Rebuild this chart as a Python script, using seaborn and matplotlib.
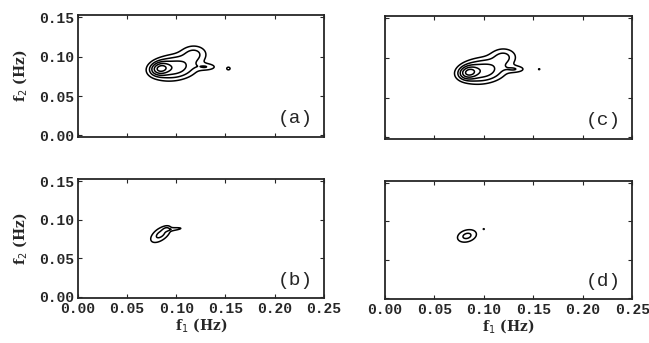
import numpy as np
import pandas as pd
import matplotlib
matplotlib.use("Agg")
import matplotlib.pyplot as plt
import seaborn as sns

# ---- data: peaks of each bispectrum panel (f1, f2, spread1, spread2, angle deg, amplitude)
panel_labels = ["(a)", "(b)", "(c)", "(d)"]

a_f1 = [0.084, 0.097, 0.118, 0.131, 0.153]
a_f2 = [0.085, 0.086, 0.104, 0.087, 0.085]
a_s1 = [0.0055, 0.015, 0.009, 0.007, 0.0014]
a_s2 = [0.0045, 0.0095, 0.0075, 0.003, 0.0014]
a_ang = [20, 10, 0, 0, 0]
a_amp = [1.0, 0.7, 0.32, 0.24, 0.30]

c_f1 = [0.085, 0.098, 0.120, 0.132, 0.156]
c_f2 = [0.082, 0.084, 0.102, 0.086, 0.086]
c_s1 = [0.0055, 0.015, 0.009, 0.007, 0.0008]
c_s2 = [0.0045, 0.0095, 0.0075, 0.003, 0.0008]
c_ang = [22, 10, 0, 0, 0]
c_amp = [1.0, 0.7, 0.32, 0.24, 0.20]

b_f1 = [0.084, 0.090, 0.099]
b_f2 = [0.081, 0.088, 0.088]
b_s1 = [0.0095, 0.0025, 0.006]
b_s2 = [0.005, 0.0018, 0.0013]
b_ang = [48, 30, 8]
b_amp = [1.0, 0.45, 0.6]

d_f1 = [0.083, 0.100]
d_f2 = [0.081, 0.090]
d_s1 = [0.0075, 0.0008]
d_s2 = [0.0055, 0.0008]
d_ang = [30, 0]
d_amp = [1.0, 0.45]

levels_ac = [0.15, 0.3, 0.5, 0.8, 1.2]
levels_bd = [0.4, 0.85]

x_ticks = [0.00, 0.05, 0.10, 0.15, 0.20, 0.25]
y_ticks = [0.00, 0.05, 0.10, 0.15]

panels = {
    "(a)": (a_f1, a_f2, a_s1, a_s2, a_ang, a_amp, levels_ac),
    "(b)": (b_f1, b_f2, b_s1, b_s2, b_ang, b_amp, levels_bd),
    "(c)": (c_f1, c_f2, c_s1, c_s2, c_ang, c_amp, levels_ac),
    "(d)": (d_f1, d_f2, d_s1, d_s2, d_ang, d_amp, levels_bd),
}

sns.set_style("ticks")
plt.rcParams["font.family"] = ["DejaVu Serif"]
plt.rcParams["xtick.direction"] = "in"
plt.rcParams["ytick.direction"] = "in"

fig = plt.figure(figsize=(6.49, 3.43), dpi=100)
pos = {
    "(a)": [0.120, 0.601, 0.379, 0.355],
    "(b)": [0.120, 0.131, 0.379, 0.347],
    "(c)": [0.593, 0.595, 0.381, 0.358],
    "(d)": [0.593, 0.128, 0.381, 0.344],
}

gx = np.linspace(0, 0.25, 600)
gy = np.linspace(0, 0.155, 380)
X, Y = np.meshgrid(gx, gy)

tickfont = dict(family="Liberation Mono", weight="bold", size=10.5)

for lab in panel_labels:
    f1, f2, s1, s2, ang, amp, lev = panels[lab]
    df = pd.DataFrame(dict(f1=f1, f2=f2, s1=s1, s2=s2, ang=ang, amp=amp))
    Z = np.zeros_like(X)
    for _, r in df.iterrows():
        t = np.deg2rad(r.ang)
        u = (X - r.f1) * np.cos(t) + (Y - r.f2) * np.sin(t)
        v = -(X - r.f1) * np.sin(t) + (Y - r.f2) * np.cos(t)
        Z += r.amp * np.exp(-0.5 * ((u / r.s1) ** 2 + (v / r.s2) ** 2))
    ax = fig.add_axes(pos[lab])
    ax.contour(X, Y, Z, levels=lev, colors="black", linewidths=1.1)
    ax.set_xlim(0, 0.25)
    ax.set_ylim(-0.002, 0.153)
    ax.set_xticks(x_ticks)
    ax.set_yticks(y_ticks)
    ax.tick_params(axis="both", which="both", top=True, right=True, length=3, width=0.8, pad=3)
    for s in ax.spines.values():
        s.set_visible(True)
        s.set_linewidth(1.3)
    ax.text(0.955, 0.08, lab, transform=ax.transAxes, ha="right", va="bottom",
            fontsize=14, family="Liberation Mono")
    if lab in ("(a)", "(b)"):
        ax.set_yticklabels([f"{v:.2f}" for v in y_ticks], fontdict=tickfont)
        ax.set_ylabel("f$_2$ (Hz)", fontsize=10, fontweight="bold", labelpad=7)
    else:
        ax.set_yticklabels([])
    if lab in ("(b)", "(d)"):
        ax.set_xticklabels([f"{v:.2f}" for v in x_ticks], fontdict=tickfont)
        ax.set_xlabel("f$_1$ (Hz)", fontsize=10, fontweight="bold", labelpad=0)
    else:
        ax.set_xticklabels([])

fig.savefig("out.png", dpi=100)
